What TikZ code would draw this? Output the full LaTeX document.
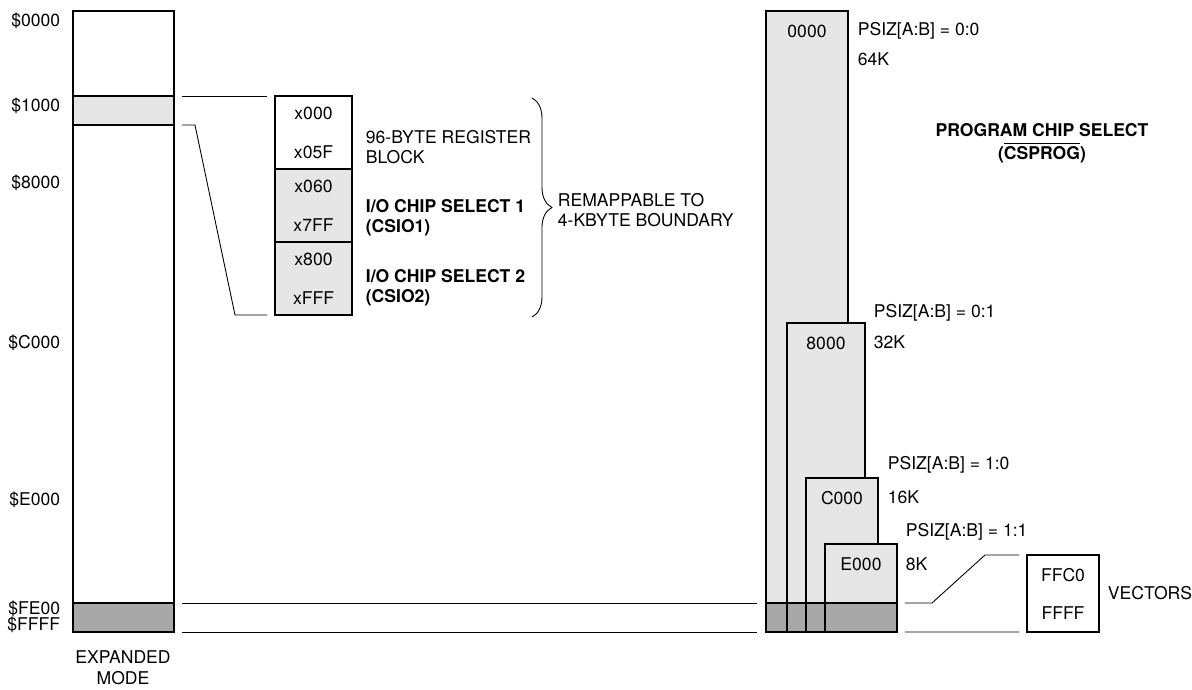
\documentclass[tikz,border=0pt]{standalone}
\usepackage{fontspec}
\setmainfont{TeX Gyre Heros}
\usetikzlibrary{positioning, calc, decorations.pathreplacing}
\definecolor{clight}{HTML}{E6E6E6}
\definecolor{cdark}{HTML}{A8A8A8}
\tikzset{
  every picture/.style={font=\fontsize{10}{11.5}\selectfont, line width=1pt},
  blk/.style={draw, fill=#1, inner sep=0pt, outer sep=0pt, anchor=north west},
  blk/.default=white,
  addr/.style={inner sep=0pt, anchor=east},
  txt/.style={inner sep=0pt, anchor=west, align=left},
  val/.style={inner sep=0pt},
  bold/.style={font=\fontsize{10}{11.5}\selectfont\bfseries},
  link/.style={line width=0.5pt},
}
\begin{document}
\begin{tikzpicture}[x=0.02cm, y=-0.02cm]
  \useasboundingbox (0,0) rectangle (1192,689);
  % expanded mode memory map
  \node[blk, minimum width=2.02cm, minimum height=12.42cm] (exp) at (73,11) {};
  \node[blk=clight, minimum width=2.02cm, minimum height=0.58cm] (regband) at (73,96) {};
  \node[blk=cdark, minimum width=2.02cm, minimum height=0.58cm] (vecband) at (73,603) {};
  \foreach \y/\t/\n in {21/\$0000/a0, 106/\$1000/a1, 183/\$8000/a8, 343/\$C000/ac,
                        500/\$E000/ae, 609/\$FE00/afe, 625/\$FFFF/aff} {
    \node[addr] (\n) at (61,\y) {\t};
  }
  \node[val, align=center] (mode) at (123,668) {EXPANDED\\[0.5pt]MODE};
  % register block, remappable
  \foreach \y/\c/\n/\a/\b in {96/white/r1/x000/x05F, 169/clight/r2/x060/x7FF, 242/clight/r3/x800/xFFF} {
    \node[blk=\c, minimum width=1.54cm, minimum height=1.46cm] (\n) at (275,\y) {};
    \node[val] (\n a) at ($(\n.north)+(0,17)$) {\a};
    \node[val] (\n b) at ($(\n.south)+(0,-17)$) {\b};
  }
  \node[txt] (regtxt) at (365,147) {96-BYTE REGISTER\\BLOCK};
  \node[txt, bold] (cs1txt) at (365,218) {I/O CHIP SELECT 1\\(CSIO1)};
  \node[txt, bold] (cs2txt) at (365,288) {I/O CHIP SELECT 2\\(CSIO2)};
  \draw[link, decorate, decoration={brace, amplitude=0.4cm}]
    ($(r1.north east)+(180,2)$) -- ($(r3.south east)+(180,2)$);
  \node[txt] (remap) at (557,210) {REMAPPABLE TO\\4-KBYTE BOUNDARY};
  % program chip select windows
  \foreach \x/\y/\w/\h/\a/\n in {766/11/1.64/12.42/0000/p64, 787/323/1.56/6.18/8000/p32,
                                 806/478/1.44/3.08/C000/p16, 825/544/1.44/1.76/E000/p8} {
    \node[blk=clight, minimum width=\w cm, minimum height=\h cm] (\n) at (\x,\y) {};
    \node[val] (\n a) at ($(\n.north)+(0,20)$) {\a};
  }
  \foreach \x/\y/\z/\p/\k/\n in {857/31/59/0:0/64K/s64, 873/313/342/0:1/32K/s32,
                                 887/465/497/1:0/16K/s16, 905/532/564/1:1/8K/s8} {
    \node[txt] (\n) at (\x,\y) {PSIZ[A:B] = \p};
    \node[txt] (\n k) at (\x,\z) {\k};
  }
  \node[blk=cdark, minimum width=2.62cm, minimum height=0.58cm] (pband) at (766,603) {};
  \foreach \n in {p32, p16, p8}
    \draw (\n.south west) -- (\n.south west |- pband.north);
  \node[val, align=center, bold] (prog) at (1042,143) {PROGRAM CHIP SELECT\\[1.5pt](\(\overline{\mbox{CSPROG}}\))};
  % vectors
  \node[blk, minimum width=1.44cm, minimum height=1.54cm] (vec) at (1027,555) {};
  \node[val] (vhi) at ($(vec.north)+(0,20)$) {FFC0};
  \node[val] (vlo) at ($(vec.south)+(0,-19)$) {FFFF};
  \node[txt] (vtxt) at (1107,593) {VECTORS};
  % connecting lines
  \draw[link] ($(regband.north east)+(8,0)$) -- ($(r1.north west)+(-8,0)$);
  \draw[link] ($(regband.south east)+(8,0)$) -- ++(13,0) -- ($(r3.south west)+(-40,0)$) -- ($(r3.south west)+(-8,0)$);
  \draw[link] ($(vecband.north east)+(8,0)$) -- ($(pband.north west)+(-9,0)$);
  \draw[link] ($(vecband.south east)+(8,0)$) -- ($(pband.south west)+(-9,0)$);
  \draw[link] ($(pband.north east)+(8,0)$) -- ++(27,0) -- ($(vec.north west)+(-42,0)$) -- ($(vec.north west)+(-8,0)$);
  \draw[link] ($(pband.south east)+(8,0)$) -- ($(vec.south west)+(-8,0)$);
\end{tikzpicture}
\end{document}
